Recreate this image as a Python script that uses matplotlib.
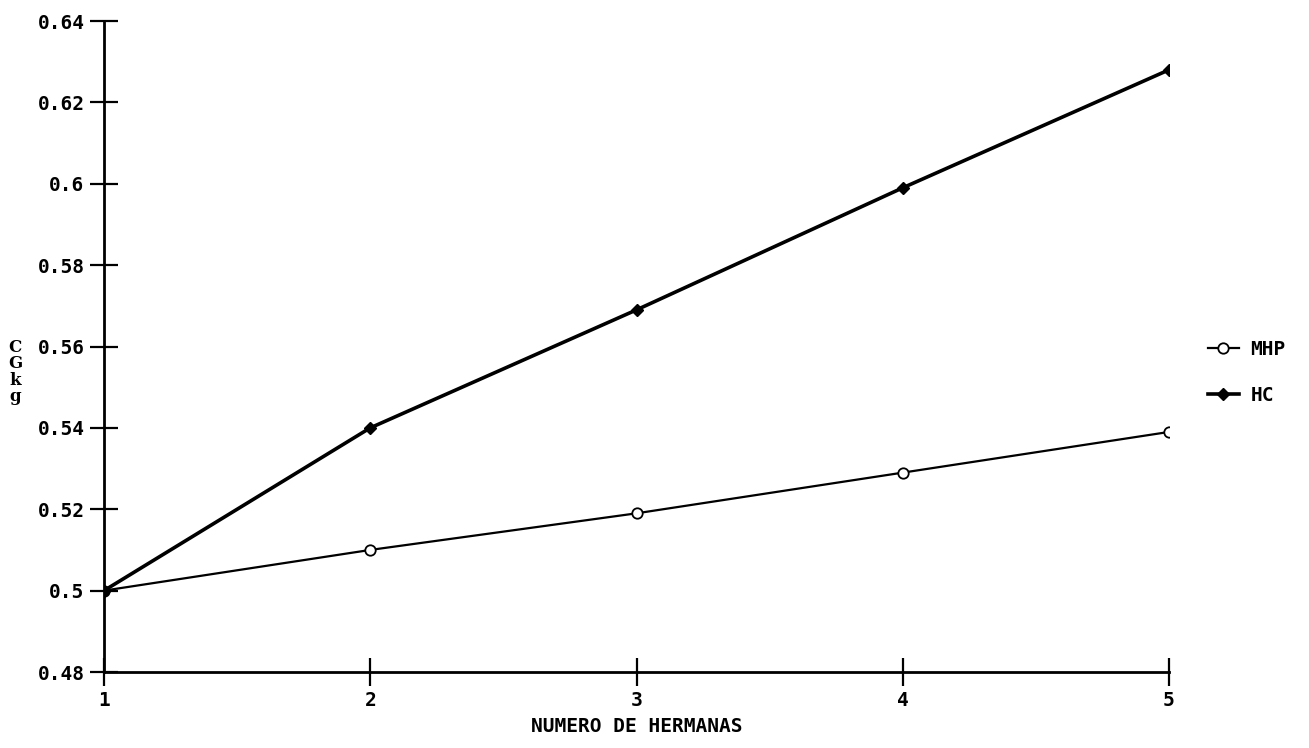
import numpy as np
import matplotlib.pyplot as plt

# number of sisters vs coefficient
hermanas = [1, 2, 3, 4, 5]
mhp = [0.5, 0.51, 0.519, 0.529, 0.539]
hc = [0.5, 0.54, 0.569, 0.599, 0.628]

yticks = [0.48, 0.5, 0.52, 0.54, 0.56, 0.58, 0.6, 0.62, 0.64]
ytick_labels = ["0.48", "0.5", "0.52", "0.54", "0.56", "0.58", "0.6", "0.62", "0.64"]

font = {"family": "DejaVu Sans Mono", "weight": "bold", "size": 14}

fig = plt.figure(figsize=(13.09, 7.48), dpi=100)
ax = fig.add_axes([104 / 1309, 1 - 672 / 748, 1065 / 1309, 651 / 748])

ax.plot(hermanas, mhp, color="black", lw=1.6, marker="o", ms=7.5,
        mfc="white", mec="black", mew=1.3, label="MHP")
ax.plot(hermanas, hc, color="black", lw=2.6, marker="D", ms=6.5,
        mfc="black", mec="black", label="HC")

ax.set_xlim(1, 5)
ax.set_ylim(0.48, 0.64)
ax.set_xticks(hermanas)
ax.set_xticklabels([str(h) for h in hermanas], fontdict=font)
ax.set_yticks(yticks)
ax.set_yticklabels(ytick_labels, fontdict=font)

for side in ["top", "right"]:
    ax.spines[side].set_visible(False)
for side in ["left", "bottom"]:
    ax.spines[side].set_linewidth(2)
ax.tick_params(direction="inout", length=20, width=1.6, pad=4)

ax.set_xlabel("NUMERO DE HERMANAS", fontdict=font, labelpad=5)

# stacked axis title on the left
fig.text(15 / 1309, 1 - 372 / 748, "C\nG\nk\ng", ha="center", va="center",
         family="DejaVu Serif", weight="bold", size=12, linespacing=0.95)

leg = ax.legend(loc="center left", bbox_to_anchor=(1.02, 0.46), frameon=False,
                handlelength=1.6, labelspacing=1.4, handletextpad=0.6,
                prop={"family": "DejaVu Sans Mono", "weight": "bold", "size": 14})

fig.savefig("out.png", dpi=100)
